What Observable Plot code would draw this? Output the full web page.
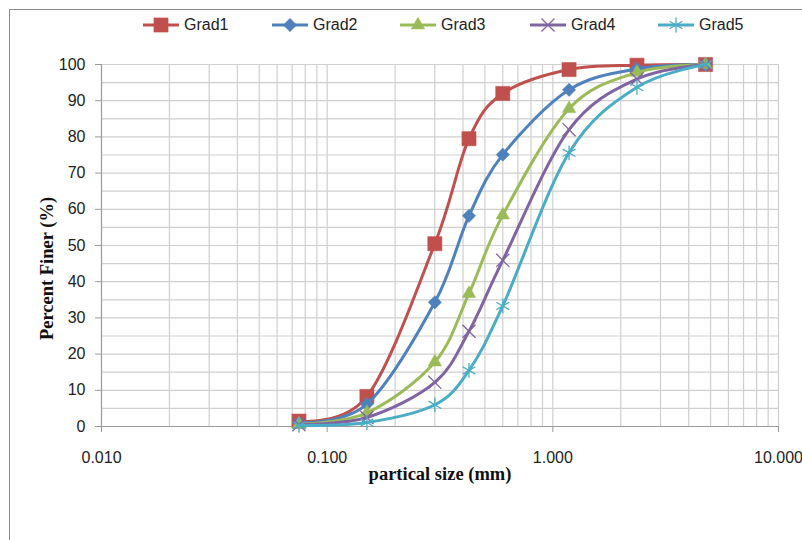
<!DOCTYPE html>
<html>
<head>
<meta charset="utf-8">
<script src="https://cdn.jsdelivr.net/npm/d3@7"></script>
<script src="https://cdn.jsdelivr.net/npm/@observablehq/plot@0.6"></script>
<style>
  html, body { margin: 0; padding: 0; background: #fff; }
  #wrap { position: relative; width: 802px; height: 540px; overflow: hidden; font-family: "Liberation Sans", sans-serif; }
  #frame { position: absolute; left: 9px; top: 9px; width: 900px; height: 600px; border: 1px solid #8c8c8c; pointer-events: none; }
  #legend { height: 45px; position: relative; }
  .item { position: absolute; top: 15px; display: flex; align-items: center; height: 20px; font-size: 16px; color: #222; }
  .item svg { margin-right: 5px; }
  #chart [aria-label="x-axis tick"], #chart [aria-label="y-axis tick"] { stroke: #9a9a9a; }
  #chart [aria-label="y-title"] text { letter-spacing: 1.2px; word-spacing: 4px; }
</style>
</head>
<body>
<div id="wrap">
  <div id="legend"></div>
  <div id="chart"></div>
  <div id="frame"></div>
</div>
<script>
const sizes = [0.075, 0.15, 0.3, 0.425, 0.6, 1.18, 2.36, 4.75];
const grad1 = [1.5, 8.3, 50.5, 79.5, 92.0, 98.6, 99.8, 100];
const grad2 = [1.0, 6.2, 34.3, 58.2, 75.1, 93.0, 98.8, 100];
const grad3 = [0.6, 3.8, 17.8, 36.7, 58.4, 87.8, 97.8, 100];
const grad4 = [0.5, 2.5, 12.2, 26.3, 45.9, 82.0, 96.0, 100];
const grad5 = [0.3, 1.1, 6.0, 15.5, 33.3, 75.6, 93.7, 100];

const seriesNames = ["Grad1", "Grad2", "Grad3", "Grad4", "Grad5"];
const seriesValues = [grad1, grad2, grad3, grad4, grad5];
const seriesColors = ["#C0504D", "#4F81BD", "#9BBB59", "#8064A2", "#4BACC6"];
const seriesSymbols = ["square", "diamond2", "triangle", "times", "asterisk"];
const symbolR = [8, 6, 5, 6, 7];
const symbolFilled = [true, true, true, false, false];

const xTicks = [0.01, 0.1, 1, 10];
const xTickLabels = ["0.010", "0.100", "1.000", "10.000"];
const yTicks = [0, 10, 20, 30, 40, 50, 60, 70, 80, 90, 100];
const yGrid = d3.range(5, 101, 5);
const xGrid = d3.scaleLog().domain([0.01, 10]).ticks().filter(v => v > 0.01);

const xTitle = "partical size (mm)";
const yTitle = "Percent Finer (%)";

const rows = [];
seriesNames.forEach((name, i) => {
  sizes.forEach((s, j) => rows.push({series: name, size: s, value: seriesValues[i][j]}));
});

const marks = [
  Plot.ruleX(xGrid, {stroke: "#cfcfcf", strokeWidth: 1.2}),
  Plot.ruleY(yGrid, {stroke: "#cfcfcf", strokeWidth: 1.2}),
  Plot.ruleY([0], {stroke: "#9a9a9a", strokeWidth: 1.2}),
  Plot.ruleX([0.01], {stroke: "#9a9a9a", strokeWidth: 1.2}),
  Plot.axisX(xTicks, {tickSize: 6, tickPadding: 19, tickFormat: d => xTickLabels[xTicks.indexOf(d)], label: null, fill: "#222"}),
  Plot.axisY(yTicks, {tickSize: 6, tickPadding: 10, label: null, fill: "#222"}),
  Plot.text([xTitle], {frameAnchor: "bottom", dy: 53, text: d => d, fontFamily: "Liberation Serif", fontWeight: "bold", fontSize: 18.5, fill: "#111"}),
  Plot.text([yTitle], {frameAnchor: "left", textAnchor: "middle", dx: -54, dy: 23, rotate: -90, text: d => d, fontFamily: "Liberation Serif", fontWeight: "bold", fontSize: 18.5, fill: "#111", ariaLabel: "y-title"})
];

seriesNames.forEach((name, i) => {
  const data = rows.filter(r => r.series === name);
  marks.push(Plot.line(data, {x: "size", y: "value", stroke: seriesColors[i], strokeWidth: 3, curve: "cardinal", tension: 0}));
  marks.push(Plot.dot(data, {
    x: "size", y: "value", symbol: () => seriesSymbols[i], r: symbolR[i],
    fill: symbolFilled[i] ? seriesColors[i] : "none",
    stroke: seriesColors[i], strokeWidth: symbolFilled[i] ? 0.5 : 1.3
  }));
});

const chart = Plot.plot({
  width: 802, height: 495,
  marginTop: 19, marginBottom: 114, marginLeft: 101, marginRight: 24,
  x: {type: "log", domain: [0.01, 10]},
  y: {domain: [0, 100]},
  symbol: {type: "identity"},
  style: {fontFamily: "Liberation Sans, sans-serif", fontSize: "16px", background: "transparent", color: "#222", overflow: "visible"},
  marks
});
document.getElementById("chart").appendChild(chart);

// legend
const legend = document.getElementById("legend");
const legendLeft = [143, 272, 400, 530, 658];
const symMap = {square: d3.symbolSquare, diamond2: d3.symbolDiamond2, triangle: d3.symbolTriangle, times: d3.symbolTimes, asterisk: d3.symbolAsterisk};
seriesNames.forEach((name, i) => {
  const item = document.createElement("div");
  item.className = "item";
  item.style.left = legendLeft[i] + "px";
  const svg = d3.create("svg").attr("width", 36).attr("height", 20);
  svg.append("line").attr("x1", 0).attr("x2", 36).attr("y1", 10).attr("y2", 10)
    .attr("stroke", seriesColors[i]).attr("stroke-width", 3);
  svg.append("path")
    .attr("transform", "translate(18,10)")
    .attr("d", d3.symbol(symMap[seriesSymbols[i]], symbolR[i] * symbolR[i] * Math.PI)())
    .attr("fill", symbolFilled[i] ? seriesColors[i] : "none")
    .attr("stroke", seriesColors[i]).attr("stroke-width", symbolFilled[i] ? 0.5 : 1.3);
  item.appendChild(svg.node());
  const span = document.createElement("span");
  span.textContent = name;
  item.appendChild(span);
  legend.appendChild(item);
});
</script>
</body>
</html>
